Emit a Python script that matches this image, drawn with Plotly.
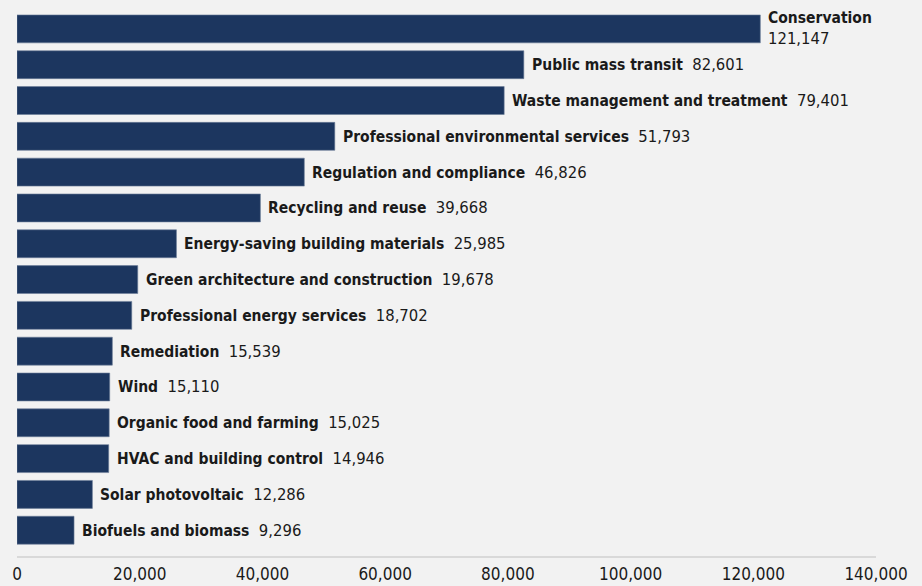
import plotly.graph_objects as go

# Jobs by green-economy segment
categories = [
    "Conservation",
    "Public mass transit",
    "Waste management and treatment",
    "Professional environmental services",
    "Regulation and compliance",
    "Recycling and reuse",
    "Energy-saving building materials",
    "Green architecture and construction",
    "Professional energy services",
    "Remediation",
    "Wind",
    "Organic food and farming",
    "HVAC and building control",
    "Solar photovoltaic",
    "Biofuels and biomass",
]
values = [121147, 82601, 79401, 51793, 46826, 39668, 25985, 19678,
          18702, 15539, 15110, 15025, 14946, 12286, 9296]

x_ticks = [0, 20000, 40000, 60000, 80000, 100000, 120000, 140000]
x_tick_labels = [f"{t:,}" for t in x_ticks]

NAVY = "#1c365f"
BG = "#f2f2f2"
FONT = "Liberation Sans Narrow, DejaVu Sans Condensed, Arial Narrow, sans-serif"

fig = go.Figure(
    go.Bar(
        x=values,
        y=categories,
        orientation="h",
        marker=dict(color=NAVY, line=dict(color="#6b7d99", width=0.6)),
        width=0.78,
        hoverinfo="x+y",
    )
)

annotations = []
for name, v in zip(categories, values):
    name_part = f"<span style='font-size:15.5px'><b>{name}</b></span>"
    if v > 100000:
        text = f"{name_part}<br>{v:,}"
    else:
        text = f"{name_part}\u00a0\u00a0{v:,}"
    annotations.append(dict(
        x=v, y=name, xref="x", yref="y",
        text=text, showarrow=False,
        xanchor="left", yanchor="middle", xshift=6,
        align="left",
        font=dict(family=FONT, size=16.5, color="#1a1a1a"),
    ))

fig.update_layout(
    width=922, height=586,
    margin=dict(l=17, r=46, t=11, b=30, autoexpand=False),
    paper_bgcolor=BG, plot_bgcolor=BG,
    showlegend=False,
    annotations=annotations,
    xaxis=dict(
        range=[0, 140000],
        tickvals=x_ticks, ticktext=x_tick_labels,
        showgrid=False, zeroline=False,
        showline=True, linecolor="#d9d9d9", linewidth=1.5,
        ticks="", ticklen=0, automargin=False,
        ticklabelstandoff=2,
        tickfont=dict(family=FONT, size=17, color="#1a1a1a"),
    ),
    yaxis=dict(
        categoryorder="array", categoryarray=categories,
        range=[14.72, -0.5],
        showticklabels=False, showgrid=False, zeroline=False,
        showline=False, ticks="", automargin=False,
    ),
)

fig.write_html("out.html")
